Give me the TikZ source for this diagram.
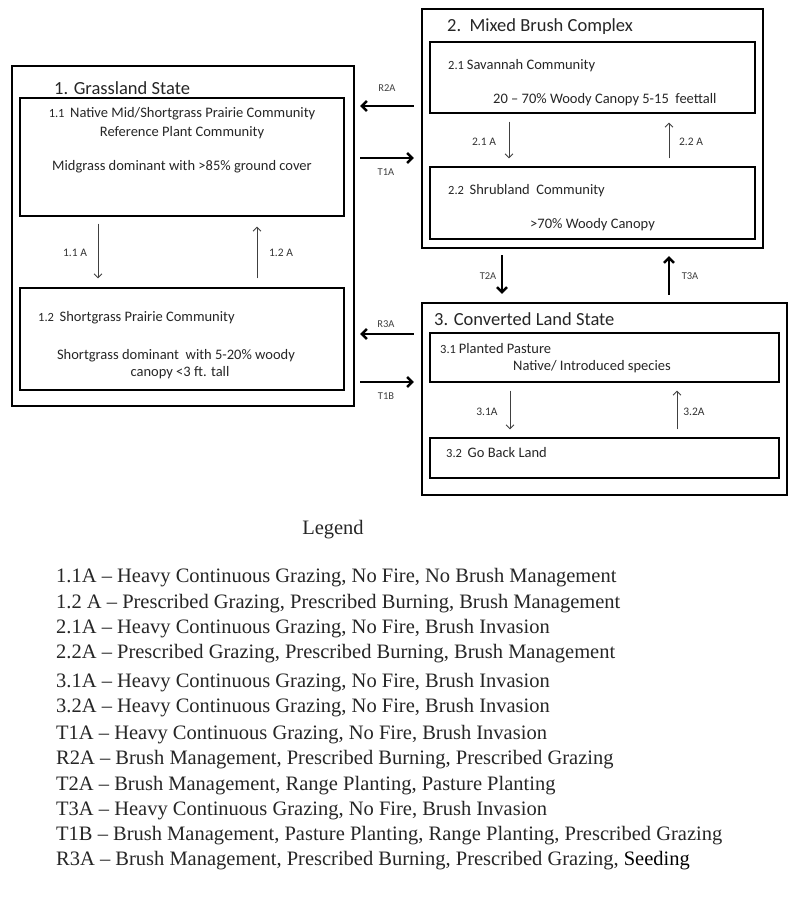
\documentclass[tikz,border=0pt]{standalone}
\usepackage{fontspec}
\setmainfont{Carlito}
\newfontfamily\legfont[Ligatures=TeX]{Liberation Serif}
\usetikzlibrary{arrows.meta}
\newcommand{\numf}{\fontsize{12.5}{14}\selectfont}
\newcommand{\bodyf}{\fontsize{14.5}{16}\selectfont}
\tikzset{
  commbox/.style={draw, line width=1.1pt, inner sep=0pt},
  txt/.style={inner sep=0pt, font=\bodyf, text=black!85},
  ttl/.style={inner sep=0pt, font=\fontsize{18.5}{20}\selectfont, anchor=west, text=black!85},
  lbl/.style={inner sep=0pt, font=\fontsize{11.5}{13}\selectfont, text=black!80},
  tlbl/.style={inner sep=0pt, font=\fontsize{10.5}{12}\selectfont, text=black!75},
  thinarrow/.style={-{Straight Barb[length=4pt,width=8pt]}, line width=0.9pt, draw=black!75},
  bigarrow/.style={-{Straight Barb[length=5pt,width=10pt]}, line width=2.4pt},
  legline/.style={inner sep=0pt, anchor=west, font=\legfont\fontsize{20.5}{22}\selectfont, text=black!85},
}
\begin{document}
\begin{tikzpicture}[x=1pt,y=-1pt]
\useasboundingbox (0,0) rectangle (800,920);
\fill[white] (0,0) rectangle (800,920);
% ---- State 1
\draw[line width=2.4pt] (12,66) rectangle (354,406);
\node[draw=none, minimum width=342pt, minimum height=340pt, inner sep=0pt] (s1) at (183,236) {};
\node[commbox, minimum width=324pt, minimum height=118pt] (c11) at (182,157) {};
\node[commbox, minimum width=324pt, minimum height=102pt] (c12) at (182,339) {};
\node[ttl] (t1) at (54,88) {1. Grassland State};
\node[txt] (c11a) at (182,114) {\numf 1.1\ \ \bodyf Native Mid/Shortgrass Prairie Community};
\node[txt] (c11b) at (182,133) {Reference Plant Community};
\node[txt] (c11c) at (182,167) {Midgrass dominant with {>}85\% ground cover};
\node[txt, anchor=west] (c12a) at (38,318) {\numf 1.2\ \ \bodyf Shortgrass Prairie Community};
\node[txt] (c12b) at (176,356) {Shortgrass dominant\ \ with 5-20\% woody};
\node[txt] (c12c) at (180,373) {canopy {<}3 ft. tall};
\coordinate (x11) at (98,0);
\coordinate (x12) at (257,0);
\draw[thinarrow, shorten <=7pt, shorten >=9pt] (c11.south -| x11) -- (c12.north -| x11);
\draw[thinarrow, shorten <=9pt, shorten >=10pt] (c12.north -| x12) -- (c11.south -| x12);
\node[lbl] (l11) at (75,253) {1.1 A};
\node[lbl] (l12) at (281,253) {1.2 A};
% ---- State 2
\draw[line width=2.4pt] (422,9) rectangle (763,248);
\node[draw=none, minimum width=341pt, minimum height=239pt, inner sep=0pt] (s2) at (592.5,128.5) {};
\node[commbox, minimum width=325pt, minimum height=71pt] (c21) at (592.5,77.5) {};
\node[commbox, minimum width=325pt, minimum height=72pt] (c22) at (592.5,203) {};
\node[ttl] (t2) at (447,27) {2.\ \ Mixed Brush Complex};
\node[txt, anchor=west] (c21a) at (448,66) {\numf 2.1\ \bodyf Savannah Community};
\node[txt, anchor=west] (c21b) at (493,100) {20 – 70\% Woody Canopy 5-15\ \ feettall};
\node[txt, anchor=west] (c22a) at (448,191) {\numf 2.2\ \ \bodyf Shrubland\ \ Community};
\node[txt, anchor=west] (c22b) at (530,225) {{>}70\% Woody Canopy};
\coordinate (x21) at (509,0);
\coordinate (x22) at (669,0);
\draw[thinarrow, shorten <=8pt, shorten >=8pt] (c21.south -| x21) -- (c22.north -| x21);
\draw[thinarrow, shorten <=8pt, shorten >=9pt] (c22.north -| x22) -- (c21.south -| x22);
\node[lbl] (l21) at (484,142) {2.1 A};
\node[lbl] (l22) at (691,142) {2.2 A};
% ---- State 3
\draw[line width=2.4pt] (422,303) rectangle (787,495);
\node[draw=none, minimum width=365pt, minimum height=192pt, inner sep=0pt] (s3) at (604.5,399) {};
\node[commbox, minimum width=349pt, minimum height=49pt] (c31) at (604.5,357.5) {};
\node[commbox, minimum width=349pt, minimum height=40pt] (c32) at (604.5,458) {};
\node[ttl] (t3) at (434,319) {3. Converted Land State};
\node[txt, anchor=west] (c31a) at (440,349) {\numf 3.1\ \bodyf Planted Pasture};
\node[txt, anchor=west] (c31b) at (513,367) {Native/ Introduced species};
\node[txt, anchor=west] (c32a) at (446,453) {\numf 3.2\ \ \bodyf Go Back Land};
\coordinate (x31) at (510,0);
\coordinate (x32) at (677,0);
\draw[thinarrow, shorten <=8pt, shorten >=8pt] (c31.south -| x31) -- (c32.north -| x31);
\draw[thinarrow, shorten <=8pt, shorten >=8pt] (c32.north -| x32) -- (c31.south -| x32);
\node[lbl] (l31) at (487,412) {3.1A};
\node[lbl] (l32) at (694,412) {3.2A};
% ---- Transitions
\coordinate (yR2A) at (0,106);
\coordinate (yT1A) at (0,158);
\coordinate (yR3A) at (0,334);
\coordinate (yT1B) at (0,382);
\coordinate (xT2A) at (502,0);
\coordinate (xT3A) at (669,0);
\draw[bigarrow, shorten <=8pt, shorten >=6pt] (s2.west |- yR2A) -- (s1.east |- yR2A);
\draw[bigarrow, shorten <=6pt, shorten >=8pt] (s1.east |- yT1A) -- (s2.west |- yT1A);
\draw[bigarrow, shorten <=8pt, shorten >=6pt] (s3.west |- yR3A) -- (s1.east |- yR3A);
\draw[bigarrow, shorten <=6pt, shorten >=8pt] (s1.east |- yT1B) -- (s3.west |- yT1B);
\draw[bigarrow, shorten <=7pt, shorten >=9pt] (s2.south -| xT2A) -- (s3.north -| xT2A);
\draw[bigarrow, shorten <=8pt, shorten >=8pt] (s3.north -| xT3A) -- (s2.south -| xT3A);
\node[tlbl] (lR2A) at (387,88) {R2A};
\node[tlbl] (lT1A) at (386,172) {T1A};
\node[tlbl] (lR3A) at (386,324) {R3A};
\node[tlbl] (lT1B) at (386,396) {T1B};
\node[tlbl] (lT2A) at (488,276) {T2A};
\node[tlbl] (lT3A) at (690,276) {T3A};
% ---- Legend
\node[inner sep=0pt, font=\legfont\fontsize{20.5}{22}\selectfont, text=black!85] (leg) at (333,530) {Legend};
\node[legline] (g1) at (56,578) {1.1A – Heavy Continuous\ Grazing, No Fire, No Brush Management};
\node[legline] (g2) at (56,604) {1.2 A – Prescribed Grazing, Prescribed Burning, Brush Management};
\node[legline] (g3) at (56,629) {2.1A – Heavy Continuous\ Grazing, No Fire, Brush Invasion};
\node[legline] (g4) at (56,654) {2.2A – Prescribed Grazing, Prescribed Burning, Brush Management};
\node[legline] (g5) at (56,683) {3.1A – Heavy Continuous\ Grazing, No Fire, Brush Invasion};
\node[legline] (g6) at (56,708) {3.2A – Heavy Continuous\ Grazing, No Fire, Brush Invasion};
\node[legline] (g7) at (56,735) {T1A – Heavy Continuous Grazing, No Fire, Brush Invasion};
\node[legline] (g8) at (56,760) {R2A – Brush Management, Prescribed Burning, Prescribed Grazing};
\node[legline] (g9) at (56,786) {T2A – Brush Management, Range Planting, Pasture Planting};
\node[legline] (g10) at (56,811) {T3A – Heavy Continuous Grazing, No Fire, Brush Invasion};
\node[legline] (g11) at (56,836) {T1B – Brush Management, Pasture Planting, Range Planting, Prescribed Grazing};
\node[legline] (g12) at (56,861) {R3A – Brush Management, Prescribed Burning, Prescribed Grazing, \textcolor{black}{Seeding}};
\end{tikzpicture}
\end{document}
